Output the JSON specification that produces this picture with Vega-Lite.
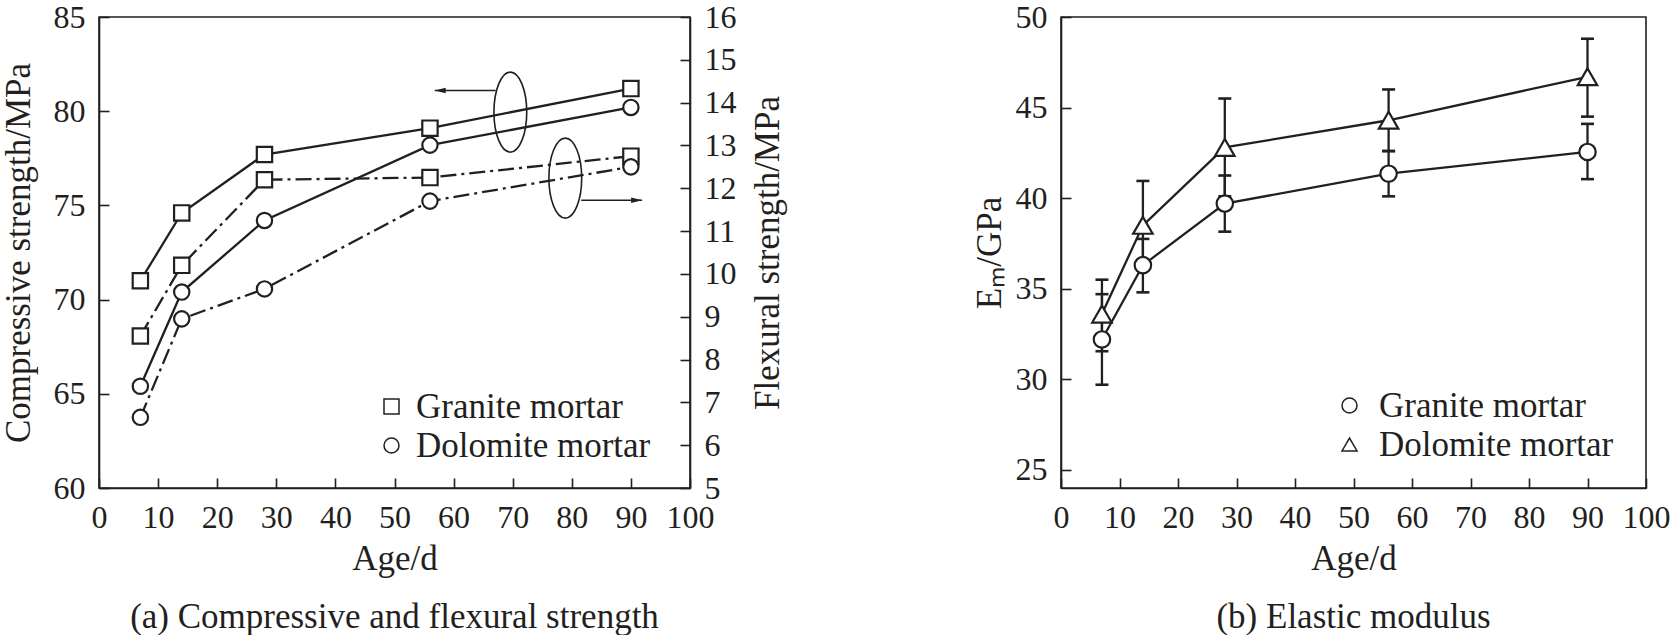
{
  "$schema": "https://vega.github.io/schema/vega-lite/v6.json",
  "background": "white",
  "padding": {"left": 0, "top": 0, "right": 0, "bottom": 0},
  "config": {
    "font": "Liberation Serif",
    "view": {"stroke": "#231f20", "strokeWidth": 1.6},
    "axis": {
      "labelFont": "Liberation Serif",
      "titleFont": "Liberation Serif",
      "labelFontSize": 32,
      "titleFontSize": 35,
      "titleFontWeight": "normal",
      "labelColor": "#231f20",
      "titleColor": "#231f20",
      "domainColor": "#231f20",
      "domainWidth": 1.6,
      "tickColor": "#231f20",
      "tickWidth": 1.6,
      "tickSize": -10,
      "grid": false,
      "labelFlush": false,
      "labelOverlap": false,
      "labelPadding": 24
    },
    "legend": {
      "labelFont": "Liberation Serif",
      "labelFontSize": 35,
      "labelColor": "#231f20",
      "labelLimit": 0,
      "symbolSize": 225,
      "padding": 0,
      "rowPadding": 3
    },
    "title": {
      "font": "Liberation Serif",
      "fontSize": 35,
      "fontWeight": "normal",
      "color": "#231f20"
    }
  },
  "datasets": {
    "comp": [
      {"age": 7, "mortar": "Granite mortar", "value": 71.0},
      {"age": 14, "mortar": "Granite mortar", "value": 74.6},
      {"age": 28, "mortar": "Granite mortar", "value": 77.7},
      {"age": 56, "mortar": "Granite mortar", "value": 79.1},
      {"age": 90, "mortar": "Granite mortar", "value": 81.2},
      {"age": 7, "mortar": "Dolomite mortar", "value": 65.4},
      {"age": 14, "mortar": "Dolomite mortar", "value": 70.4},
      {"age": 28, "mortar": "Dolomite mortar", "value": 74.2},
      {"age": 56, "mortar": "Dolomite mortar", "value": 78.2},
      {"age": 90, "mortar": "Dolomite mortar", "value": 80.2}
    ],
    "flex": [
      {"age": 7, "mortar": "Granite mortar", "value": 8.55},
      {"age": 14, "mortar": "Granite mortar", "value": 10.2},
      {"age": 28, "mortar": "Granite mortar", "value": 12.2},
      {"age": 56, "mortar": "Granite mortar", "value": 12.25},
      {"age": 90, "mortar": "Granite mortar", "value": 12.75},
      {"age": 7, "mortar": "Dolomite mortar", "value": 6.65},
      {"age": 14, "mortar": "Dolomite mortar", "value": 8.95},
      {"age": 28, "mortar": "Dolomite mortar", "value": 9.65},
      {"age": 56, "mortar": "Dolomite mortar", "value": 11.7},
      {"age": 90, "mortar": "Dolomite mortar", "value": 12.5}
    ],
    "ellipses": [
      {"age": 69.6, "value": 79.95},
      {"age": 78.9, "value": 76.45}
    ],
    "arrows": [
      {"dir": "left", "age": 56.8, "age2": 67.1, "value": 81.1},
      {"dir": "right", "age": 81.6, "age2": 91.9, "value": 75.27}
    ],
    "modulus": [
      {"age": 7, "mortar": "Granite mortar", "value": 32.2, "lo": 29.7, "hi": 34.7},
      {"age": 14, "mortar": "Granite mortar", "value": 36.3, "lo": 34.8, "hi": 37.75},
      {"age": 28, "mortar": "Granite mortar", "value": 39.7, "lo": 38.15, "hi": 41.25},
      {"age": 56, "mortar": "Granite mortar", "value": 41.35, "lo": 40.1, "hi": 42.6},
      {"age": 90, "mortar": "Granite mortar", "value": 42.55, "lo": 41.05, "hi": 44.1},
      {"age": 7, "mortar": "Dolomite mortar", "value": 33.6, "lo": 31.55, "hi": 35.5},
      {"age": 14, "mortar": "Dolomite mortar", "value": 38.5, "lo": 36.05, "hi": 40.95},
      {"age": 28, "mortar": "Dolomite mortar", "value": 42.8, "lo": 40.1, "hi": 45.5},
      {"age": 56, "mortar": "Dolomite mortar", "value": 44.3, "lo": 42.6, "hi": 46.0},
      {"age": 90, "mortar": "Dolomite mortar", "value": 46.7, "lo": 44.5, "hi": 48.8}
    ]
  },
  "spacing": 185,
  "resolve": {"scale": {"shape": "independent"}, "legend": {"shape": "independent"}},
  "hconcat": [
    {
      "width": 591,
      "height": 471,
      "title": {"text": "(a) Compressive and flexural strength", "orient": "bottom", "offset": 24},
      "layer": [
        {
          "encoding": {
            "x": {
              "field": "age", "type": "quantitative", "title": "Age/d",
              "scale": {"domain": [0, 100]},
              "axis": {"values": [0, 10, 20, 30, 40, 50, 60, 70, 80, 90, 100], "titlePadding": 8}
            },
            "y": {
              "field": "value", "type": "quantitative", "title": "Compressive strength/MPa",
              "scale": {"domain": [60, 85]},
              "axis": {"orient": "left", "values": [60, 65, 70, 75, 80, 85], "titlePadding": 17}
            }
          },
          "layer": [
            {
              "data": {"name": "comp"},
              "mark": {"type": "line", "stroke": "#231f20", "strokeWidth": 2.3},
              "encoding": {"detail": {"field": "mortar"}}
            },
            {
              "data": {"name": "comp"},
              "mark": {"type": "point", "filled": true, "fill": "white", "stroke": "#231f20", "strokeWidth": 2.2, "size": 235, "opacity": 1},
              "encoding": {
                "shape": {
                  "field": "mortar", "type": "nominal",
                  "scale": {"domain": ["Granite mortar", "Dolomite mortar"], "range": ["square", "circle"]},
                  "legend": {
                    "orient": "none", "legendX": 275, "legendY": 372, "title": null, "labelOffset": 7,
                    "encode": {"symbols": {"update": {"fill": {"value": "white"}, "stroke": {"value": "#231f20"}, "strokeWidth": {"value": 2}, "opacity": {"value": 1}}}}
                  }
                }
              }
            },
            {
              "data": {"name": "ellipses"},
              "mark": {"type": "point", "shape": "M0,-1A0.41,1,0,1,1,0,1A0.41,1,0,1,1,0,-1Z", "size": 6400, "stroke": "#231f20", "strokeWidth": 1.6, "fill": null, "filled": false, "opacity": 1}
            },
            {
              "data": {"name": "arrows"},
              "mark": {"type": "rule", "stroke": "#231f20", "strokeWidth": 1.6},
              "encoding": {"x2": {"field": "age2"}}
            },
            {
              "data": {"name": "arrows"},
              "transform": [{"filter": "datum.dir === 'left'"}],
              "mark": {"type": "point", "shape": "M0,0L2,-0.5L2,0.5Z", "size": 121, "filled": true, "fill": "#231f20", "strokeWidth": 0, "opacity": 1}
            },
            {
              "data": {"name": "arrows"},
              "transform": [{"filter": "datum.dir === 'right'"}],
              "mark": {"type": "point", "shape": "M0,0L-2,-0.5L-2,0.5Z", "size": 121, "filled": true, "fill": "#231f20", "strokeWidth": 0, "opacity": 1},
              "encoding": {"x": {"field": "age2", "type": "quantitative", "title": "Age/d"}}
            }
          ]
        },
        {
          "data": {"name": "flex"},
          "encoding": {
            "x": {
              "field": "age", "type": "quantitative", "title": "Age/d",
              "scale": {"domain": [0, 100]}
            },
            "y": {
              "field": "value", "type": "quantitative", "title": "Flexural strength/MPa",
              "scale": {"domain": [5, 16]},
              "axis": {"orient": "right", "values": [5, 6, 7, 8, 9, 10, 11, 12, 13, 14, 15, 16], "titlePadding": 14, "titleAngle": 270, "titleBaseline": "top"}
            }
          },
          "layer": [
            {
              "mark": {"type": "line", "stroke": "#231f20", "strokeWidth": 2.3, "strokeDash": [16, 5, 3, 5]},
              "encoding": {"detail": {"field": "mortar"}}
            },
            {
              "mark": {"type": "point", "filled": true, "fill": "white", "stroke": "#231f20", "strokeWidth": 2.2, "size": 235, "opacity": 1},
              "encoding": {
                "shape": {
                  "field": "mortar", "type": "nominal",
                  "scale": {"domain": ["Granite mortar", "Dolomite mortar"], "range": ["square", "circle"]},
                  "legend": null
                }
              }
            }
          ]
        }
      ],
      "resolve": {"scale": {"y": "independent"}}
    },
    {
      "width": 585,
      "height": 471,
      "title": {"text": "(b) Elastic modulus", "orient": "bottom", "offset": 24},
      "data": {"name": "modulus"},
      "encoding": {
        "x": {
          "field": "age", "type": "quantitative", "title": "Age/d",
          "scale": {"domain": [0, 100]},
          "axis": {"values": [0, 10, 20, 30, 40, 50, 60, 70, 80, 90, 100], "titlePadding": 8}
        }
      },
      "layer": [
        {
          "mark": {"type": "rule", "stroke": "#231f20", "strokeWidth": 2.3},
          "encoding": {
            "y": {
              "field": "lo", "type": "quantitative", "title": "Eₘ/GPa",
              "scale": {"domain": [25, 50]},
              "axis": {"orient": "left", "values": [25, 30, 35, 40, 45, 50], "titlePadding": 8}
            },
            "y2": {"field": "hi"}
          }
        },
        {
          "mark": {"type": "point", "shape": "stroke", "size": 169, "stroke": "#231f20", "strokeWidth": 2.6, "opacity": 1},
          "encoding": {"y": {"field": "lo", "type": "quantitative", "title": "Eₘ/GPa"}}
        },
        {
          "mark": {"type": "point", "shape": "stroke", "size": 169, "stroke": "#231f20", "strokeWidth": 2.6, "opacity": 1},
          "encoding": {"y": {"field": "hi", "type": "quantitative", "title": "Eₘ/GPa"}}
        },
        {
          "mark": {"type": "line", "stroke": "#231f20", "strokeWidth": 2.3},
          "encoding": {
            "y": {"field": "value", "type": "quantitative", "title": "Eₘ/GPa"},
            "detail": {"field": "mortar"}
          }
        },
        {
          "mark": {"type": "point", "filled": true, "fill": "white", "stroke": "#231f20", "strokeWidth": 2.2, "size": 270, "opacity": 1},
          "encoding": {
            "y": {"field": "value", "type": "quantitative", "title": "Eₘ/GPa"},
            "shape": {
              "field": "mortar", "type": "nominal",
              "scale": {"domain": ["Granite mortar", "Dolomite mortar"], "range": ["circle", "triangle-up"]},
              "legend": {
                "orient": "none", "legendX": 271, "legendY": 371, "title": null, "labelOffset": 12,
                "encode": {"symbols": {"update": {"fill": {"value": "white"}, "stroke": {"value": "#231f20"}, "strokeWidth": {"value": 2}, "opacity": {"value": 1}}}}
              }
            }
          }
        },
        {
          "transform": [{"filter": "datum.mortar === 'Dolomite mortar'"}],
          "mark": {"type": "point", "shape": "triangle-up", "filled": true, "fill": "white", "stroke": "#231f20", "strokeWidth": 2.2, "size": 380, "opacity": 1},
          "encoding": {"y": {"field": "value", "type": "quantitative", "title": "Eₘ/GPa"}}
        }
      ]
    }
  ]
}
